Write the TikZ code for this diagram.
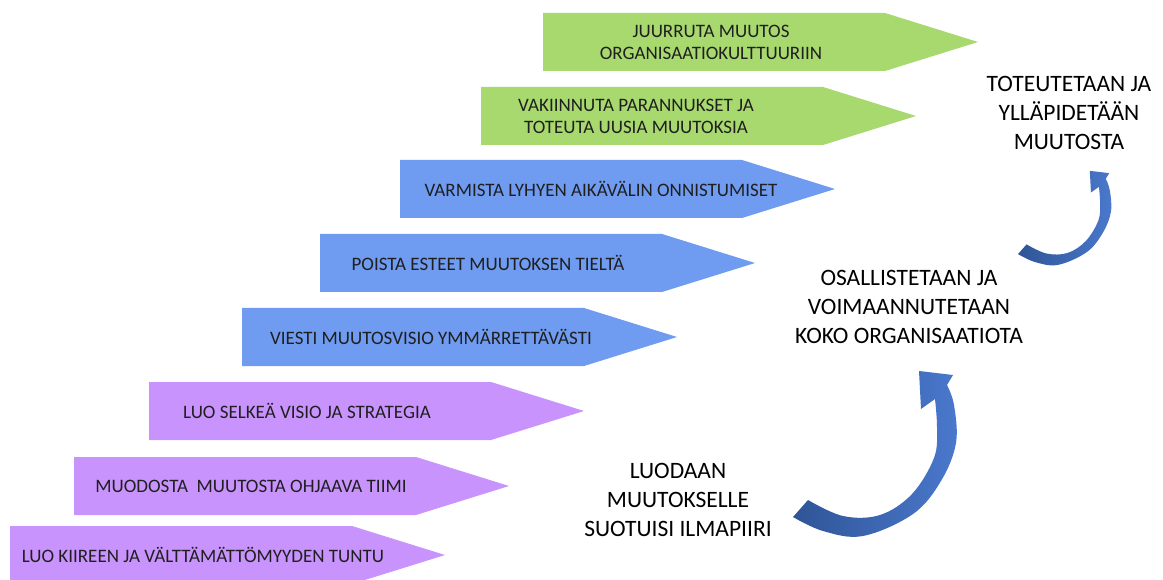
\documentclass[tikz,border=0pt]{standalone}
\usepackage{fontspec}
\setmainfont{Carlito}
\usetikzlibrary{positioning}

\definecolor{lila}{HTML}{C893FC}
\definecolor{sini}{HTML}{6F9CF1}
\definecolor{vihrea}{HTML}{A8D96E}
\definecolor{kaaritumma}{HTML}{2F5597}
\definecolor{kaarivaalea}{HTML}{4A78CC}

\tikzset{
    kaari/.pic={
        \shade[left color=kaaritumma, right color=kaarivaalea]
            plot[smooth, tension=0.6] coordinates {(0,144) (30,158) (70,163) (120,141) (148,108) (163,70) (161,32) (154,12)}
            -- (160,2) -- (126,-2) -- (128,36) --
            plot[smooth, tension=0.6] coordinates {(142,26) (144,55) (141,85) (119,121) (87,142) (50,143) (15,127)}
            -- cycle;
    }
}

\begin{document}
\begin{tikzpicture}[x=1pt, y=-1pt,
    steptext/.style={text=black!88, font=\fontsize{19}{22}\selectfont, align=center, inner sep=0pt},
    phasetext/.style={text=black, font=\fontsize{23.5}{29}\selectfont, align=center, inner sep=0pt}]
    \useasboundingbox[fill=white] (0,0) rectangle (1163,580);

    % Draw the eight steps as a staircase
    \foreach \lx/\ty/\col in {10/526/lila, 74/457/lila, 149/382/lila, 242/308/sini,
                              320/234/sini, 400/160/sini, 481/87/vihrea, 543/13/vihrea}
        \fill[\col] (\lx,\ty) -- ++(342,0) -- ++(93,29) -- ++(-93,29) -- ++(-342,0) -- cycle;

    % Step texts
    \node[steptext] (s1) at (203,555) {LUO KIIREEN JA VÄLTTÄMÄTTÖMYYDEN TUNTU};
    \node[steptext] (s2) at (251,486) {MUODOSTA\ \ MUUTOSTA OHJAAVA TIIMI};
    \node[steptext] (s3) at (307,411) {LUO SELKEÄ VISIO JA STRATEGIA};
    \node[steptext] (s4) at (431,337) {VIESTI MUUTOSVISIO YMMÄRRETTÄVÄSTI};
    \node[steptext] (s5) at (488,263) {POISTA ESTEET MUUTOKSEN TIELTÄ};
    \node[steptext] (s6) at (601,189) {VARMISTA LYHYEN AIKÄVÄLIN ONNISTUMISET};
    \node[steptext] (s7) at (636,116) {VAKIINNUTA PARANNUKSET JA\\TOTEUTA UUSIA MUUTOKSIA};
    \node[steptext] (s8) at (711,42) {JUURRUTA MUUTOS\\ORGANISAATIOKULTTUURIIN};

    % Phases
    \node[phasetext] (luodaan) at (678,500) {LUODAAN\\MUUTOKSELLE\\SUOTUISI ILMAPIIRI};
    \node[phasetext] (osallistetaan) at (909,307) {OSALLISTETAAN JA\\VOIMAANNUTETAAN\\KOKO ORGANISAATIOTA};
    \node[phasetext] (toteutetaan) at (1069,113) {TOTEUTETAAN JA\\YLLÄPIDETÄÄN\\MUUTOSTA};

    % Curved arrows between the phases
    \pic[shift={(793,373)}] {kaari};
    \pic[shift={(1018,172)}, scale=0.57] {kaari};
\end{tikzpicture}
\end{document}
